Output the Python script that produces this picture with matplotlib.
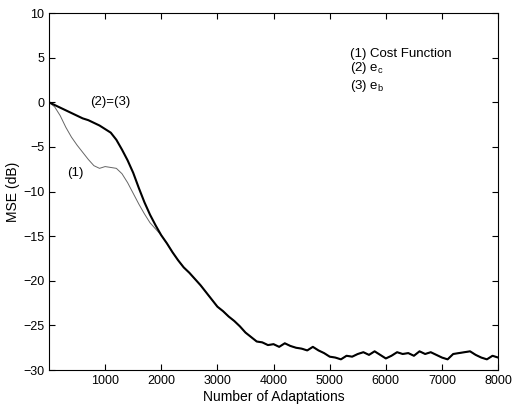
import matplotlib
matplotlib.use("Agg")
import matplotlib.pyplot as plt
import numpy as np

plt.rcParams['font.family'] = ['Liberation Sans', 'DejaVu Sans']

# number of adaptations
x = np.arange(0, 8001, 100)

# (2)=(3): e_c and e_b curves (coincide)
mse_e = [0.0, -0.3, -0.6, -0.9, -1.2, -1.5, -1.8, -2.0, -2.3, -2.6,
         -3.0, -3.4, -4.2, -5.3, -6.5, -7.9, -9.6, -11.2, -12.6, -13.8,
         -14.9, -15.8, -16.8, -17.7, -18.5, -19.1, -19.8, -20.5, -21.3, -22.1,
         -22.9, -23.4, -24.0, -24.5, -25.1, -25.8, -26.3, -26.8, -26.9, -27.2,
         -27.1, -27.4, -27.0, -27.3, -27.5, -27.6, -27.8, -27.4, -27.8, -28.1,
         -28.5, -28.6, -28.8, -28.4, -28.5, -28.2, -28.0, -28.3, -27.9, -28.3,
         -28.7, -28.4, -28.0, -28.2, -28.1, -28.4, -27.9, -28.2, -28.0, -28.3,
         -28.6, -28.8, -28.2, -28.1, -28.0, -27.9, -28.3, -28.6, -28.8, -28.4,
         -28.6]

# (1): cost function curve, differs only up to ~2000 adaptations
mse_cost_early = [0.0, -0.5, -1.5, -2.8, -3.9, -4.8, -5.6, -6.4, -7.1, -7.4,
                  -7.2, -7.3, -7.4, -8.0, -9.0, -10.2, -11.4, -12.5, -13.5, -14.2,
                  -14.9]
mse_cost = mse_cost_early + mse_e[len(mse_cost_early):]

fig = plt.figure(figsize=(5.13, 4.08), dpi=100)
ax = fig.add_axes([0.0955, 0.093, 0.8755, 0.875])

ax.plot(x, mse_cost, color='#666666', lw=0.7)
ax.plot(x, mse_e, color='black', lw=1.5)

ax.set_xlim(0, 8000)
ax.set_ylim(-30, 10)
ax.set_xticks(np.arange(1000, 8001, 1000))
ax.set_yticks(np.arange(-30, 11, 5))
ax.tick_params(direction='in', top=True, right=True, length=4, labelsize=9)

ax.set_xlabel("Number of Adaptations", fontsize=10, labelpad=2)
ax.set_ylabel("MSE (dB)", fontsize=10, labelpad=2)

ax.text(1100, 0.0, "(2)=(3)", fontsize=9.5, ha='center', va='center')
ax.text(460, -7.9, "(1)", fontsize=9.5, ha='center', va='center')

ax.text(5360, 5.45, "(1) Cost Function", fontsize=9.5, va='center')
ax.text(5360, 3.8, r"(2) e$_\mathregular{c}$", fontsize=9.5, va='center')
ax.text(5360, 1.8, r"(3) e$_\mathregular{b}$", fontsize=9.5, va='center')

fig.savefig("out.png", dpi=100)
